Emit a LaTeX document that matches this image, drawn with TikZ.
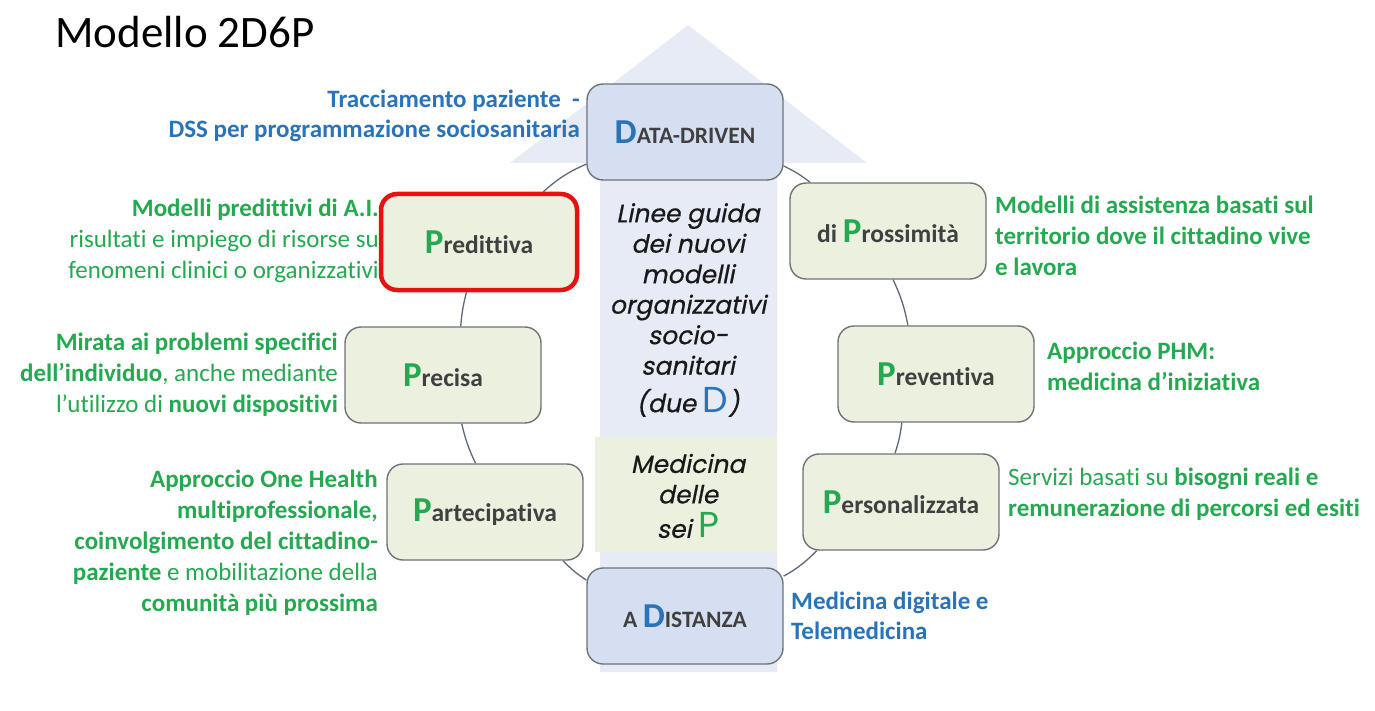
\documentclass[tikz,border=0pt]{standalone}
\usepackage{fontspec}
\setmainfont{Carlito}[Ligatures=NoCommon]
\newfontfamily\gothic{Poppins}[ItalicFont=Poppins,ItalicFeatures={FakeSlant=0.2,FakeBold=0.6}]
\usepackage{xcolor}
\usepackage{tikz}

\definecolor{boxgreen}{RGB}{235,241,222}
\definecolor{boxblue}{RGB}{214,223,241}
\definecolor{boxline}{RGB}{110,115,122}
\definecolor{arrowblue}{RGB}{231,235,246}
\definecolor{linegray}{RGB}{95,103,120}
\definecolor{txtgray}{RGB}{64,64,64}
\definecolor{pgreen}{RGB}{36,168,80}
\definecolor{dblue}{RGB}{40,115,185}
\definecolor{focusred}{RGB}{232,16,16}

\newcommand{\bigP}{{\fontsize{35}{35}\selectfont\color{pgreen}P}}
\newcommand{\bigD}{{\fontsize{35}{35}\selectfont\color{dblue}D}}
\newcommand{\smcp}[1]{{\fontsize{23.5}{26}\selectfont #1}}

\begin{document}
\begin{tikzpicture}[x=1pt,y=1pt,
  pbox/.style={draw=boxline, fill=boxgreen, line width=1.4pt, rounded corners=16pt,
    minimum width=196pt, minimum height=96pt, inner sep=0pt,
    font=\fontsize{25.5}{28}\selectfont\bfseries, text=txtgray},
  dbox/.style={pbox, fill=boxblue},
  focus/.style={pbox, draw=focusred, line width=4.5pt},
  conn/.style={draw=linegray, line width=1.3pt},
  lnote/.style={anchor=east, align=right, inner sep=0pt, text=pgreen,
    font=\fontsize{25}{31}\selectfont},
  rnote/.style={lnote, anchor=west, align=left},
  guide/.style={align=center, inner sep=0pt, text=black!90,
    font=\gothic\itshape\fontsize{25}{30.5}\selectfont}
]
  \useasboundingbox (0,0) rectangle (1375,-711);

  % big arrow behind the middle
  \fill[arrowblue] (600,-672) -- (600,-163) -- (510,-163) -- (688,-25)
    -- (867,-163) -- (777,-163) -- (777,-672) -- cycle;
  \fill[boxgreen] (595,-437) rectangle (777,-552);

  \node[anchor=base west, inner sep=0pt, font=\fontsize{45}{50}\selectfont] (title) at (55,-48) {Modello 2D6P};

  \node[guide] (guidelines) at (688,-310) {Linee guida\\dei nuovi\\modelli\\organizzativi\\socio-\\sanitari\\[7pt](due {\upshape\color{dblue}\fontsize{36}{36}\selectfont D})};
  \node[guide] (sixp) at (688,-496) {Medicina\\delle\\[4pt]sei {\upshape\color{pgreen}\fontsize{36}{36}\selectfont P}};

  % side notes
  \node[lnote, text=dblue, font=\fontsize{25}{30}\selectfont\bfseries] (tracnote) at (580,-116) {Tracciamento paziente\ \ -\\DSS per programmazione sociosanitaria};
  \node[lnote] (prednote) at (379,-241) {\textbf{Modelli predittivi di A.I.}\\risultati e impiego di risorse su\\fenomeni clinici o organizzativi};
  \node[lnote] (precnote) at (338,-375) {\textbf{Mirata ai problemi specifici}\\\textbf{dell’individuo}, anche mediante\\l’utilizzo di \textbf{nuovi dispositivi}};
  \node[lnote] (partnote) at (378,-543) {\textbf{Approccio One Health}\\\textbf{multiprofessionale,}\\\textbf{coinvolgimento del cittadino-}\\\textbf{paziente} e mobilitazione della\\\textbf{comunità più prossima}};
  \node[rnote, font=\fontsize{25}{31}\selectfont\bfseries] (prosnote) at (995,-236) {Modelli di assistenza basati sul\\territorio dove il cittadino vive\\e lavora};
  \node[rnote, font=\fontsize{25}{31}\selectfont\bfseries] (prevnote) at (1047,-366) {Approccio PHM:\\medicina d’iniziativa};
  \node[rnote] (persnote) at (1008,-494) {Servizi basati su \textbf{bisogni reali e}\\\textbf{remunerazione di percorsi ed esiti}};
  \node[rnote, text=dblue, font=\fontsize{25}{30}\selectfont\bfseries] (distnote) at (791,-616) {Medicina digitale e\\Telemedicina};

  % the ring of boxes
  \node[dbox] (dd) at (685,-132) {\bigD\smcp{ATA-DRIVEN}};
  \node[focus] (pred) at (479,-242) {\bigP redittiva};
  \node[pbox] (prec) at (443,-375) {\bigP recisa};
  \node[pbox] (part) at (485,-512) {\bigP artecipativa};
  \node[dbox] (dist) at (685,-616) {\smcp{A }\bigD\smcp{ISTANZA}};
  \node[pbox] (pers) at (901,-502) {\bigP ersonalizzata};
  \node[pbox] (prev) at (936,-374) {\bigP reventiva};
  \node[pbox] (pros) at (888,-231) {di \bigP rossimità};

  \draw[conn] (dd.198) to[bend right=9] (pred.38);
  \draw[conn] (pred.256) to[bend right=5] (prec.70);
  \draw[conn] (prec.291) to[bend right=6] (part.101);
  \draw[conn] (part.328) to[bend right=6] (dist.160);
  \draw[conn] (dist.22) to[bend right=8] (pers.210);
  \draw[conn] (pers.97) to[bend right=5] (prev.235);
  \draw[conn] (prev.120) to[bend right=7] (pros.276);
  \draw[conn] (pros.148) to[bend right=6] (dd.341);
\end{tikzpicture}
\end{document}
